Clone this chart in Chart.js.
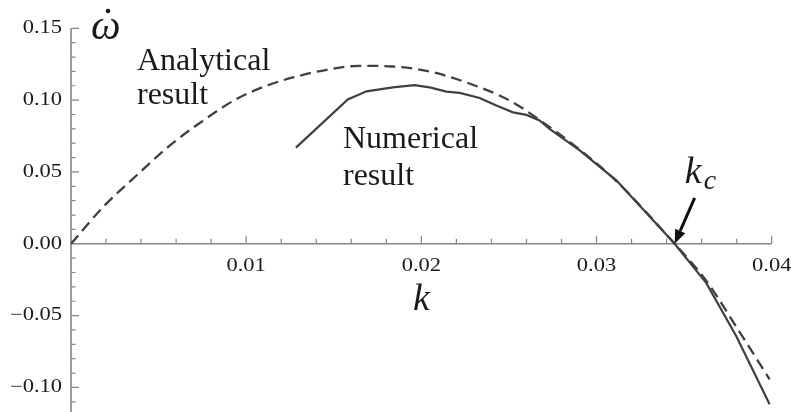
<!DOCTYPE html>
<html>
<head>
<meta charset="utf-8">
<script src="https://cdn.jsdelivr.net/npm/chart.js@4/dist/chart.umd.min.js"></script>
<style>
  html, body { margin: 0; padding: 0; background: #ffffff; }
  canvas { display: block; }
</style>
</head>
<body>
<canvas id="c" width="791" height="412"></canvas>
<script>
// Growth rate of the perturbation versus wavenumber k
const kAnalytical = [0, 0.00184, 0.00375, 0.00565, 0.00755, 0.00945, 0.01116, 0.01267, 0.01459, 0.01649,
                     0.01837, 0.02029, 0.02200, 0.02504, 0.02675, 0.02904, 0.03113, 0.03446, 0.03627, 0.03798, 0.03988];
const wAnalytical = [0, 0.0257, 0.0477, 0.0685, 0.0858, 0.1008, 0.1100, 0.1158, 0.1211, 0.1239,
                     0.1234, 0.1204, 0.1147, 0.0997, 0.0862, 0.0655, 0.0436, 0.0, -0.0258, -0.0578, -0.0944];

const kNumerical = [0.01284, 0.01580, 0.01687, 0.01837, 0.01960, 0.02048, 0.02143, 0.02219, 0.02333, 0.02428,
                    0.02523, 0.02600, 0.02675, 0.02732, 0.02904, 0.03113, 0.03446, 0.03627, 0.03798, 0.03988];
const wNumerical = [0.0669, 0.1005, 0.1061, 0.1089, 0.1105, 0.1089, 0.1059, 0.1050, 0.1015, 0.0962,
                    0.0915, 0.0897, 0.0858, 0.0800, 0.0650, 0.0442, 0.0, -0.0274, -0.0644, -0.1117];

const kCritical = 0.03446;

const xTickValues = [0.01, 0.02, 0.03, 0.04];
const xTickLabels = ["0.01", "0.02", "0.03", "0.04"];
const yTickValues = [0.15, 0.10, 0.05, 0.00, -0.05, -0.10];
const yTickLabels = ["0.15", "0.10", "0.05", "0.00", "\u22120.05", "\u22120.10"];
const xMinorStep = 0.002;
const yMinorStep = 0.01;

const xTitle = "k";
const yTitle = "\u03C9";
const analyticalLabel = ["Analytical", "result"];
const numericalLabel = ["Numerical", "result"];
const criticalLabel = ["k", "c"];

const AXIS_COLOR = "#868686";
const LINE_COLOR = "#404040";
const TEXT_COLOR = "#1a1a1a";

function pts(xs, ys) { return xs.map((x, i) => ({ x: x, y: ys[i] })); }

// Axes crossing at the origin with inward ticks, drawn from the chart's scales
const axesPlugin = {
  id: "crossAxes",
  beforeDatasetsDraw(chart) {
    const ctx = chart.ctx;
    const xs = chart.scales.x, ys = chart.scales.y;
    const x0 = xs.getPixelForValue(0), y0 = ys.getPixelForValue(0);
    const xEnd = xs.getPixelForValue(xs.max);
    const yTop = ys.getPixelForValue(ys.max), yBot = chart.height;
    ctx.save();
    ctx.strokeStyle = AXIS_COLOR;
    ctx.lineWidth = 1.6;
    ctx.beginPath();
    ctx.moveTo(x0, yTop); ctx.lineTo(x0, yBot);
    ctx.moveTo(x0, y0); ctx.lineTo(xEnd, y0);
    ctx.stroke();
    ctx.lineWidth = 1.2;
    ctx.beginPath();
    for (let i = 1; i <= Math.round(xs.max / xMinorStep); i++) {
      const v = i * xMinorStep;
      const px = xs.getPixelForValue(v);
      const major = Math.abs(v / 0.01 - Math.round(v / 0.01)) < 1e-6;
      ctx.moveTo(px, y0); ctx.lineTo(px, y0 - (major ? 8 : 5));
    }
    for (let i = Math.ceil(ys.min / yMinorStep); i <= Math.round(ys.max / yMinorStep); i++) {
      if (i === 0) continue;
      const v = i * yMinorStep;
      const py = ys.getPixelForValue(v);
      const major = i % 5 === 0;
      ctx.moveTo(x0, py); ctx.lineTo(x0 + (major ? 8 : 4.5), py);
    }
    ctx.stroke();

    ctx.fillStyle = TEXT_COLOR;
    ctx.font = "18px 'Liberation Serif', 'Times New Roman', serif";
    ctx.textBaseline = "middle";
    const sx = 1.25;
    xTickValues.forEach((v, i) => {
      ctx.save();
      ctx.translate(xs.getPixelForValue(v), y0 + 22);
      ctx.scale(sx, 1);
      ctx.textAlign = "center";
      ctx.fillText(xTickLabels[i], 0, 0);
      ctx.restore();
    });
    yTickValues.forEach((v, i) => {
      ctx.save();
      ctx.translate(x0 - 9, ys.getPixelForValue(v));
      ctx.scale(sx, 1);
      ctx.textAlign = "right";
      ctx.fillText(yTickLabels[i], 0, 0);
      ctx.restore();
    });
    ctx.restore();
  },
  afterDatasetsDraw(chart) {
    const ctx = chart.ctx;
    const xs = chart.scales.x, ys = chart.scales.y;
    ctx.save();
    ctx.fillStyle = TEXT_COLOR;
    ctx.textAlign = "left";
    ctx.textBaseline = "alphabetic";

    // axis titles
    ctx.font = "italic 42px 'Liberation Serif', 'Times New Roman', serif";
    ctx.fillText(yTitle, 91, 39);
    ctx.beginPath();
    ctx.arc(108, 11, 2.3, 0, Math.PI * 2);
    ctx.fill();
    ctx.font = "italic 38px 'Liberation Serif', 'Times New Roman', serif";
    ctx.fillText(xTitle, 413, 310);

    // curve labels
    ctx.font = "32px 'Liberation Serif', 'Times New Roman', serif";
    ctx.fillText(analyticalLabel[0], 137, 70);
    ctx.fillText(analyticalLabel[1], 137, 104);
    ctx.fillText(numericalLabel[0], 343, 148);
    ctx.fillText(numericalLabel[1], 343, 185);

    // critical wavenumber label and arrow
    const tipX = xs.getPixelForValue(kCritical), tipY = ys.getPixelForValue(0);
    ctx.font = "italic 38px 'Liberation Serif', 'Times New Roman', serif";
    ctx.fillText(criticalLabel[0], tipX + 10, tipY - 61);
    ctx.font = "italic 28px 'Liberation Serif', 'Times New Roman', serif";
    ctx.fillText(criticalLabel[1], tipX + 29, tipY - 55);

    const tailX = tipX + 20, tailY = tipY - 46;
    const ang = Math.atan2(tipY - tailY, tipX - tailX);
    const headLen = 14, headW = 5.5;
    const bx = tipX - headLen * Math.cos(ang), by = tipY - headLen * Math.sin(ang);
    ctx.strokeStyle = "#111111";
    ctx.lineWidth = 3;
    ctx.beginPath();
    ctx.moveTo(tailX, tailY); ctx.lineTo(bx, by);
    ctx.stroke();
    ctx.fillStyle = "#111111";
    ctx.beginPath();
    ctx.moveTo(tipX, tipY);
    ctx.lineTo(bx + headW * Math.sin(ang), by - headW * Math.cos(ang));
    ctx.lineTo(bx - headW * Math.sin(ang), by + headW * Math.cos(ang));
    ctx.closePath();
    ctx.fill();
    ctx.restore();
  }
};

new Chart(document.getElementById("c"), {
  type: "line",
  data: {
    datasets: [
      {
        label: "Analytical result",
        data: pts(kAnalytical, wAnalytical),
        borderColor: LINE_COLOR,
        borderWidth: 2.3,
        borderDash: [11, 6],
        pointRadius: 0,
        fill: false,
        cubicInterpolationMode: "monotone"
      },
      {
        label: "Numerical result",
        data: pts(kNumerical, wNumerical),
        borderColor: LINE_COLOR,
        borderWidth: 2.2,
        pointRadius: 0,
        fill: false,
        tension: 0
      }
    ]
  },
  options: {
    responsive: false,
    animation: false,
    devicePixelRatio: 1,
    events: [],
    layout: { padding: { left: 71, right: 19.3, top: 28.3, bottom: 0 } },
    plugins: { legend: { display: false }, tooltip: { enabled: false } },
    scales: {
      x: { type: "linear", min: 0, max: 0.04, display: false },
      y: { type: "linear", min: -0.1171, max: 0.15, display: false }
    }
  },
  plugins: [axesPlugin]
});
</script>
</body>
</html>
